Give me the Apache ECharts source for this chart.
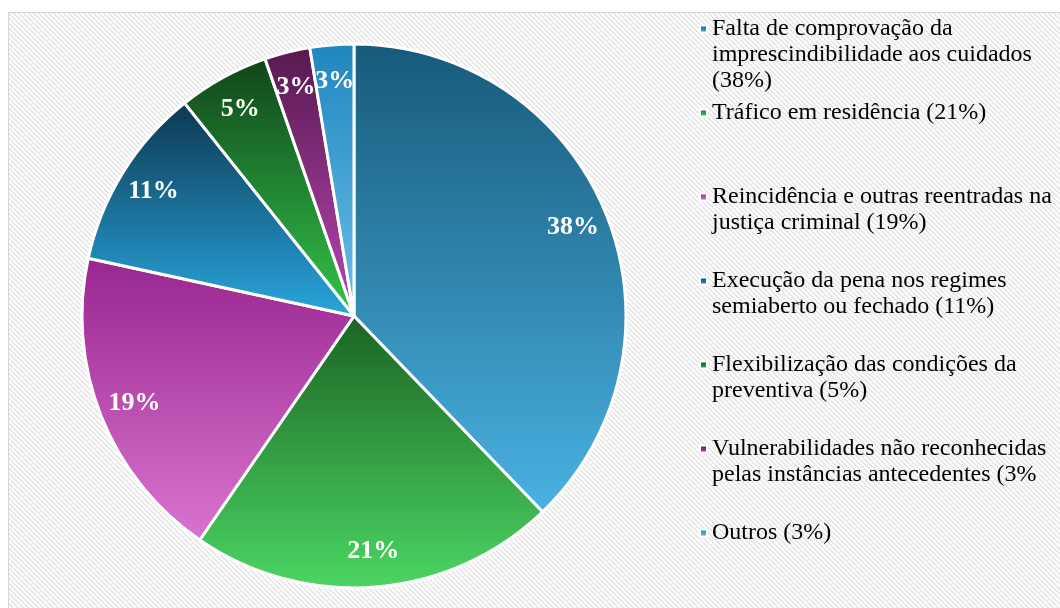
<!DOCTYPE html>
<html>
<head>
<meta charset="utf-8">
<script src="https://cdn.jsdelivr.net/npm/echarts/dist/echarts.min.js"></script>
<style>
html,body{margin:0;padding:0;background:#ffffff;}
#chart{width:1060px;height:608px;}
</style>
</head>
<body>
<div id="chart"></div>
<script>
// ---- data ----
const categories = [
  "Falta de comprovação da\nimprescindibilidade aos cuidados\n(38%)",
  "Tráfico em residência (21%)",
  "Reincidência e outras reentradas na\njustiça criminal (19%)",
  "Execução da pena nos regimes\nsemiaberto ou fechado (11%)",
  "Flexibilização das condições da\npreventiva (5%)",
  "Vulnerabilidades não reconhecidas\npelas instâncias antecedentes (3%",
  "Outros (3%)"
];
const values = [37.8, 21.8, 18.8, 10.9, 5.4, 2.7, 2.6];
const valueLabels = ["38%", "21%", "19%", "11%", "5%", "3%", "3%"];
const topColors = ["#175a7a", "#1b6422", "#982690", "#0d3850", "#11441a", "#561a4e", "#2086be"];
const bottomColors = ["#4ab2e2", "#4cd664", "#da74ce", "#29a6de", "#31c64a", "#ba46b6", "#6cc0e8"];

// ---- styling ----
const FONT = "'Liberation Serif', 'Times New Roman', serif";
const CX = 354, CY = 316, R = 272;

function grad(i) {
  return new echarts.graphic.LinearGradient(0, 0, 0, 1, [
    { offset: 0, color: topColors[i] },
    { offset: 1, color: bottomColors[i] }
  ]);
}

// hatch pattern
const P = 5;
const pc = document.createElement('canvas');
pc.width = P; pc.height = P;
const pctx = pc.getContext('2d');
pctx.fillStyle = '#fcfcfc';
pctx.fillRect(0, 0, P, P);
pctx.fillStyle = '#e6e6e6';
for (let y = 0; y < P; y++) {
  for (let x = 0; x < P; x++) {
    const d = ((x - y) % P + P) % P;
    if (d < 2) pctx.fillRect(x, y, 1, 1);
  }
}

const pieData = categories.map((name, i) => ({
  name: name,
  value: values[i],
  itemStyle: { color: grad(i) }
}));
const labelData = categories.map((name, i) => ({ name: name, value: values[i] }));

const LEG_START = 29, LEG_STEP = 84, LINE_H = 26;
const legends = categories.map((name, i) => {
  const n = name.split('\n').length;
  const center = LEG_START + LEG_STEP * i;
  return {
    data: [{ name: name, icon: 'rect' }],
    formatter: (nm) => '\n'.repeat(nm.split('\n').length - 1) + nm,
    left: 699,
    top: center - LINE_H * n + LINE_H / 2,
    padding: 0,
    orient: 'vertical',
    itemWidth: 7,
    itemHeight: 7,
    selectedMode: false,
    textStyle: { fontFamily: FONT, fontSize: 24, lineHeight: LINE_H, color: '#000000' }
  };
});

const chart = echarts.init(document.getElementById('chart'), null, { renderer: 'canvas' });
chart.setOption({
  backgroundColor: '#ffffff',
  animation: false,
  graphic: [{
    type: 'rect',
    z: -10,
    silent: true,
    shape: { x: 8.5, y: 12.5, width: 1070, height: 620 },
    style: { fill: { image: pc, repeat: 'repeat' }, stroke: '#d6d6d6', lineWidth: 1 }
  }],
  legend: legends,
  series: [
    {
      type: 'pie',
      center: [CX, CY],
      radius: [0, R],
      startAngle: 90,
      clockwise: true,
      avoidLabelOverlap: false,
      silent: true,
      itemStyle: { borderColor: '#ffffff', borderWidth: 3 },
      label: { show: false },
      labelLine: { show: false },
      emphasis: { disabled: true },
      data: pieData
    },
    {
      type: 'pie',
      center: [CX, CY],
      radius: [194, R],
      startAngle: 90,
      clockwise: true,
      avoidLabelOverlap: false,
      minShowLabelAngle: 0,
      silent: true,
      itemStyle: { color: 'rgba(0,0,0,0)' },
      labelLayout: { hideOverlap: false },
      label: {
        show: true,
        position: 'inside',
        formatter: (p) => valueLabels[p.dataIndex],
        color: '#ffffff',
        fontFamily: FONT,
        fontWeight: 'bold',
        fontSize: 26
      },
      labelLine: { show: false },
      emphasis: { disabled: true },
      data: labelData
    }
  ]
});
</script>
</body>
</html>
